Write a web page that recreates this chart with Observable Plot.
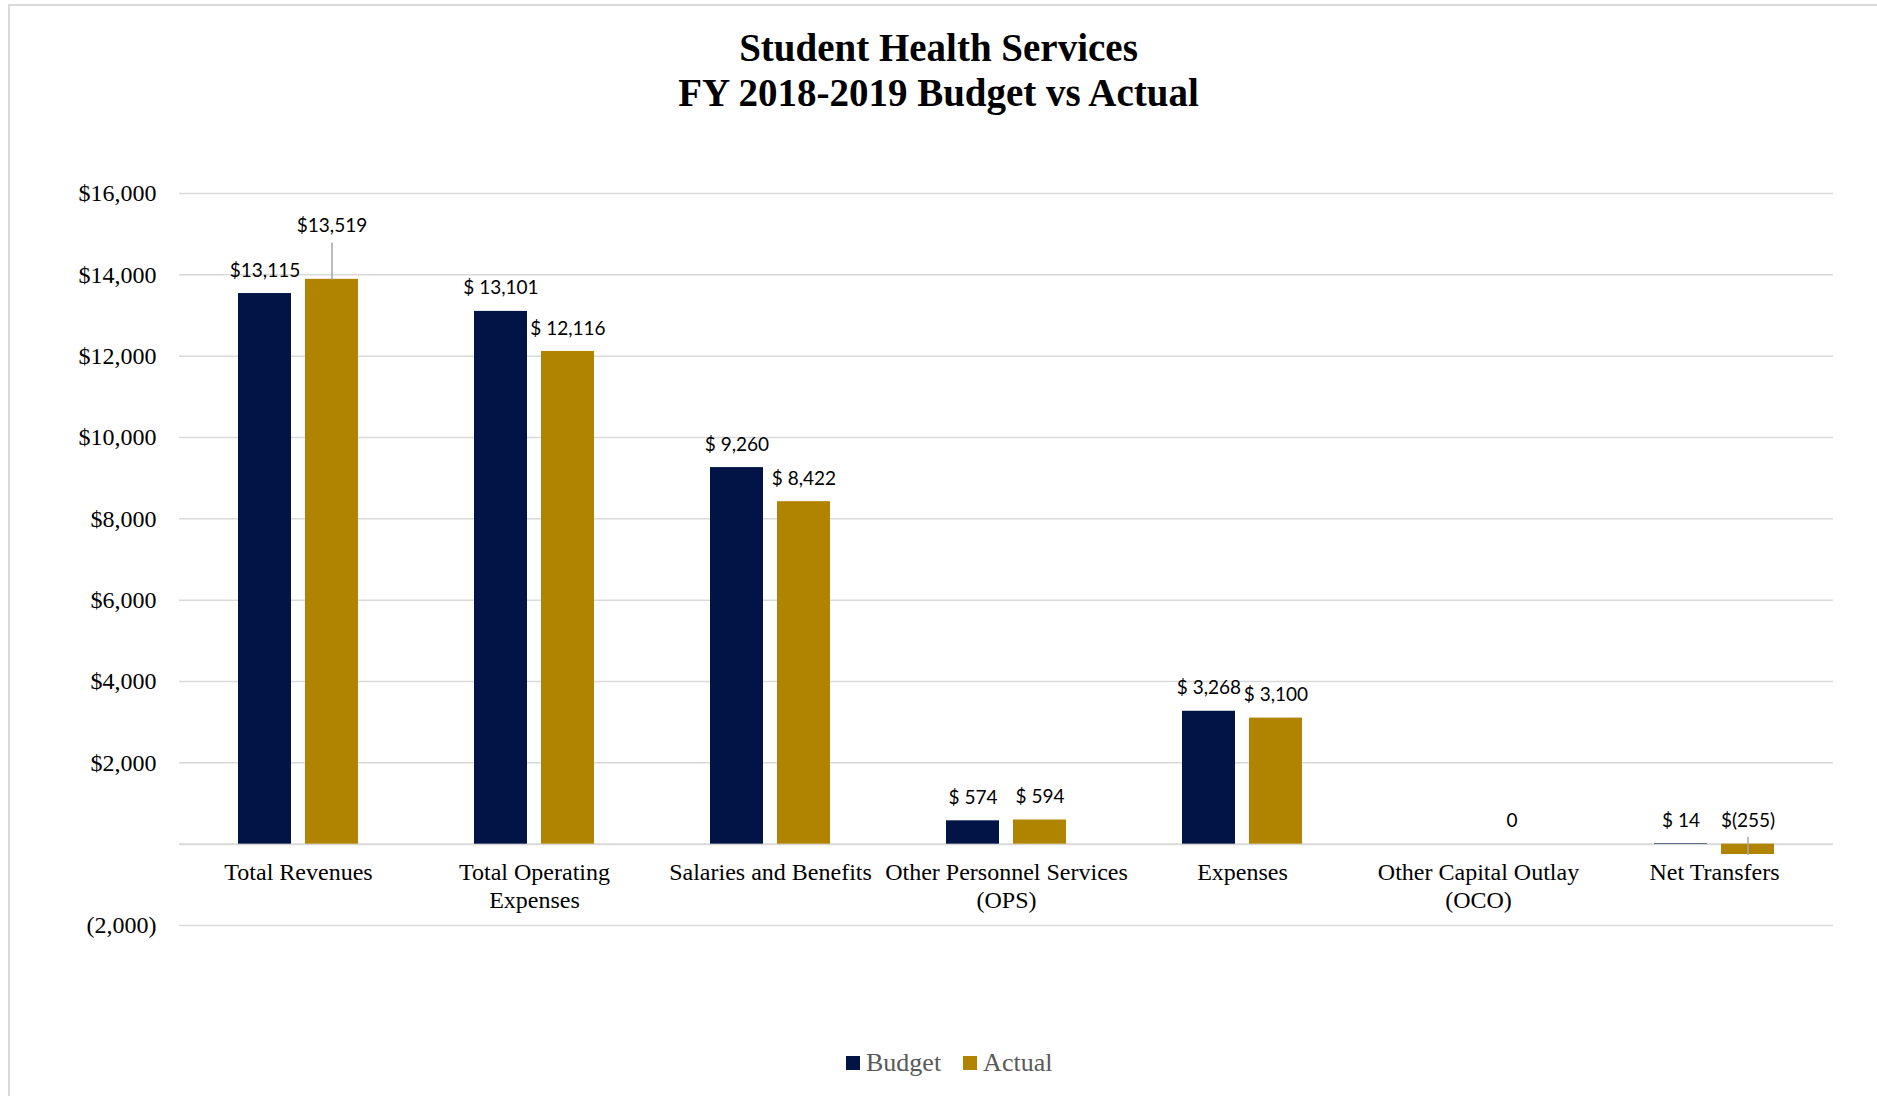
<!DOCTYPE html>
<html>
<head>
<meta charset="utf-8">
<script src="https://cdn.jsdelivr.net/npm/d3@7"></script>
<script src="https://cdn.jsdelivr.net/npm/@observablehq/plot@0.6"></script>
<style>
  html, body { margin: 0; padding: 0; background: #fff; }
  #wrap { position: relative; width: 1877px; height: 1096px; overflow: hidden; background: #fff; }
  #frame { position: absolute; left: 8px; top: 4px; right: -10px; bottom: -10px; border-left: 2px solid #d9d9d9; border-top: 2px solid #d9d9d9; }
  #title { position: absolute; top: 25px; left: 0; width: 1877px; text-align: center; font-family: "Liberation Serif", serif; font-weight: bold; font-size: 39px; line-height: 45px; color: #000; }
  #chart { position: absolute; left: 0; top: 0; }
  #legend { position: absolute; left: 846px; top: 1048px; display: flex; align-items: center; font-family: "Liberation Serif", serif; font-size: 26px; color: #595959; }
  .sw { width: 14px; height: 14px; display: inline-block; margin-right: 6px; }
  .item { display: flex; align-items: center; margin-right: 22px; }
</style>
</head>
<body>
<div id="wrap">
  <div id="frame"></div>
  <div id="title">Student Health Services<br>FY 2018-2019 Budget vs Actual</div>
  <div id="chart"></div>
  <div id="legend"></div>
</div>
<script>
const categories = ["Total Revenues", "Total Operating\nExpenses", "Salaries and Benefits", "Other Personnel Services\n(OPS)", "Expenses", "Other Capital Outlay\n(OCO)", "Net Transfers"];
const seriesNames = ["Budget", "Actual"];
const seriesColors = ["#001446", "#B08300"];
const budgetValues = [13540, 13101, 9260, 574, 3268, null, 14];
const actualValues = [13890, 12116, 8422, 594, 3100, 0, -255];
const budgetLabels = ["$13,115", "$ 13,101", "$ 9,260", "$ 574", "$ 3,268", "", "$ 14"];
const actualLabels = ["$13,519", "$ 12,116", "$ 8,422", "$ 594", "$ 3,100", "0", "$(255)"];
const actualLeader = [true, false, false, false, false, false, true];
const yTicks = [-2000, 0, 2000, 4000, 6000, 8000, 10000, 12000, 14000, 16000];
const yTickLabels = ["(2,000)", "", "$2,000", "$4,000", "$6,000", "$8,000", "$10,000", "$12,000", "$14,000", "$16,000"];

const budgetRows = categories.map((c, i) => ({category: c, value: budgetValues[i], label: budgetLabels[i]}));
const actualRows = categories.map((c, i) => ({category: c, value: actualValues[i], label: actualLabels[i], leader: actualLeader[i]}));

const leaderShape = { draw(context, l) { context.moveTo(0, 0); context.lineTo(0, -l); } };
const labelFont = {fontFamily: "Lato, 'Open Sans', sans-serif", fontSize: 19, fill: "#000"};
const leaderStyle = {x: "category", y: "value", dx: 33.5, anchor: "start", rotate: 0, shape: leaderShape, stroke: "#a6a6a6", strokeWidth: 1.5};

const plot = Plot.plot({
  width: 1877,
  height: 1000,
  marginTop: 193,
  marginBottom: 75,
  marginLeft: 179,
  marginRight: 44,
  style: {fontFamily: "'Liberation Serif', serif", fontSize: "24px", color: "#000", background: "transparent"},
  x: {domain: categories, paddingInner: 0.492, paddingOuter: 0.246, axis: null},
  y: {domain: [-2000, 16000], ticks: yTicks, tickFormat: d => yTickLabels[yTicks.indexOf(d)], tickSize: 0, tickPadding: 23, label: null},
  marks: [
    Plot.ruleY(yTicks.filter(t => t !== 0), {stroke: "#d9d9d9", strokeWidth: 1.5}),
    Plot.ruleY([0], {stroke: "#d9d9d9", strokeWidth: 2}),
    Plot.barY(budgetRows.filter(d => d.value != null), {x: "category", y: "value", fill: seriesColors[0], insetRight: 67}),
    Plot.barY(actualRows.filter(d => d.value != null && d.value !== 0), {x: "category", y: "value", fill: seriesColors[1], insetLeft: 67}),
    Plot.vector(actualRows.filter(d => d.leader && d.value > 0), {...leaderStyle, length: 36}),
    Plot.vector(actualRows.filter(d => d.leader && d.value < 0), {...leaderStyle, length: 17}),
    Plot.text(budgetRows.filter(d => d.label), {x: "category", y: d => Math.max(d.value ?? 0, 0), text: "label", dx: -33.5, dy: -23, ...labelFont}),
    Plot.text(actualRows.filter(d => !(d.leader && d.value > 0)), {x: "category", y: d => Math.max(d.value, 0), text: "label", dx: 33.5, dy: -23, ...labelFont}),
    Plot.text(actualRows.filter(d => d.leader && d.value > 0), {x: "category", y: "value", text: "label", dx: 33.5, dy: -53, ...labelFont}),
    Plot.text(categories, {x: d => d, y: () => 0, text: d => d, lineAnchor: "top", dy: 17, lineHeight: 1.13, fontFamily: "'Liberation Serif', serif", fontSize: 24, fill: "#000"})
  ]
});
document.getElementById("chart").appendChild(plot);

const legend = document.getElementById("legend");
seriesNames.forEach((s, i) => {
  const item = document.createElement("span");
  item.className = "item";
  const sw = document.createElement("span");
  sw.className = "sw";
  sw.style.background = seriesColors[i];
  item.appendChild(sw);
  item.appendChild(document.createTextNode(s));
  legend.appendChild(item);
});
</script>
</body>
</html>
